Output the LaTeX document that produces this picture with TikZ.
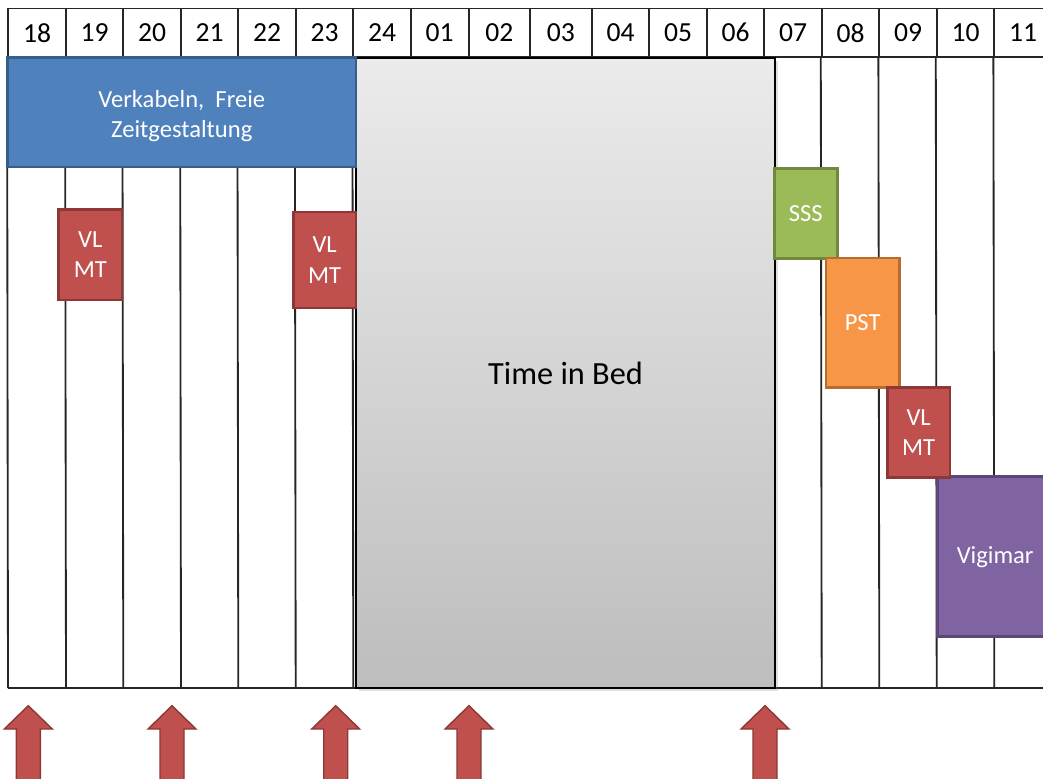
\documentclass[tikz,border=0pt]{standalone}
\usepackage{fontspec}
\setmainfont{Carlito}
\usetikzlibrary{fit,shadows}
\definecolor{vkblue}{HTML}{4F81BD}
\definecolor{vkblueline}{HTML}{385D8A}
\definecolor{mtred}{HTML}{C0504D}
\definecolor{mtredline}{HTML}{8C3836}
\definecolor{sssgreen}{HTML}{9BBB59}
\definecolor{sssgreenline}{HTML}{71893F}
\definecolor{pstorange}{HTML}{F79646}
\definecolor{pstorangeline}{HTML}{B66D31}
\definecolor{vigpurple}{HTML}{8064A2}
\definecolor{vigpurpleline}{HTML}{5C4776}
\definecolor{bedtop}{HTML}{EBEBEB}
\definecolor{bedbot}{HTML}{BDBDBD}

\begin{document}
\begin{tikzpicture}[x=0.02cm,y=-0.02cm,
    grid/.style={black!85,line width=1.05pt},
    hourcell/.style={draw=black!85,line width=1.05pt,inner sep=0pt},
    hourtext/.style={inner sep=0pt,font=\fontsize{15.7}{18}\selectfont},
    task/.style={draw=#1line,fill=#1,line width=1.4pt,inner sep=0pt},
    tasktext/.style={inner sep=0pt,text=white,align=center,font=\fontsize{14}{17.2}\selectfont},
    cue/.style={draw=mtredline,fill=mtred,line width=0.8pt}]
  \useasboundingbox (0,0) rectangle (1043,778);
  \clip (0,0) rectangle (1043,778);

  \foreach \h/\l/\r in {18/8/66, 19/66/123.3, 20/123.3/181, 21/181/238.3, 22/238.3/295.7, 23/295.7/353.3,
      24/353.3/410.7, 01/410.7/468.7, 02/468.7/530, 03/530/591.7, 04/591.7/649.3, 05/649.3/706.7,
      06/706.7/764.3, 07/764.3/821.7, 08/821.7/879.3, 09/879.3/936.7, 10/936.7/994.3, 11/994.3/1052} {
    \node[hourcell,fit={(\l,8.5) (\r,57)}] (h\h) {};
    \node[hourtext] (t\h) at (h\h.center) {\h};
    \draw[grid] (h\h.south west) -- (\l,688);
  }
  \draw[grid] (h11.south east) -- (1052,688) -- (8,688);

  \node[draw=black,line width=1.1pt,top color=bedtop,bottom color=bedbot,inner sep=0pt,
        drop shadow={shadow xshift=1.5pt,shadow yshift=-1.5pt,opacity=0.25},
        fit={(356,58) (775,688)}] (bed) {};
  \node[inner sep=0pt,font=\fontsize{18.4}{22}\selectfont] (bedtext) at (bed.center) {Time in Bed};

  \node[task=vkblue,fit={(7.5,57.7) (356,167)}] (wiring) {};
  \node[tasktext] (wiringtext) at ([yshift=-2pt]wiring.center) {Verkabeln,\ \ Freie\\Zeitgestaltung};
  \node[task=mtred,fit={(58.7,209.3) (122,300)}] (vlmt1) {};
  \node[tasktext] (vlmt1text) at (vlmt1.center) {VL\\MT};
  \node[task=mtred,fit={(293.3,212) (356,308)}] (vlmt2) {};
  \node[tasktext] (vlmt2text) at (vlmt2.center) {VL\\MT};
  \node[task=sssgreen,fit={(774.3,168.3) (837.3,258.7)}] (sss) {};
  \node[tasktext] (ssstext) at (sss.center) {SSS};
  \node[task=pstorange,fit={(826,258) (899.3,387.7)}] (pst) {};
  \node[tasktext] (psttext) at (pst.center) {PST};
  \node[task=vigpurple,fit={(937.3,476.7) (1053,636.7)}] (vigimar) {};
  \node[tasktext] (vigimartext) at (vigimar.center) {Vigimar};
  \node[task=mtred,fit={(887.3,387.3) (950,477.7)}] (vlmt3) {};
  \node[tasktext] (vlmt3text) at (vlmt3.center) {VL\\MT};

  \foreach \ax in {28.3,172,335.7,469,765}
    \draw[cue] (\ax,705.7) -- ++(24,23.3) -- ++(-12,0) -- ++(0,60) -- ++(-24,0) -- ++(0,-60) -- ++(-12,0) -- cycle;
\end{tikzpicture}
\end{document}
